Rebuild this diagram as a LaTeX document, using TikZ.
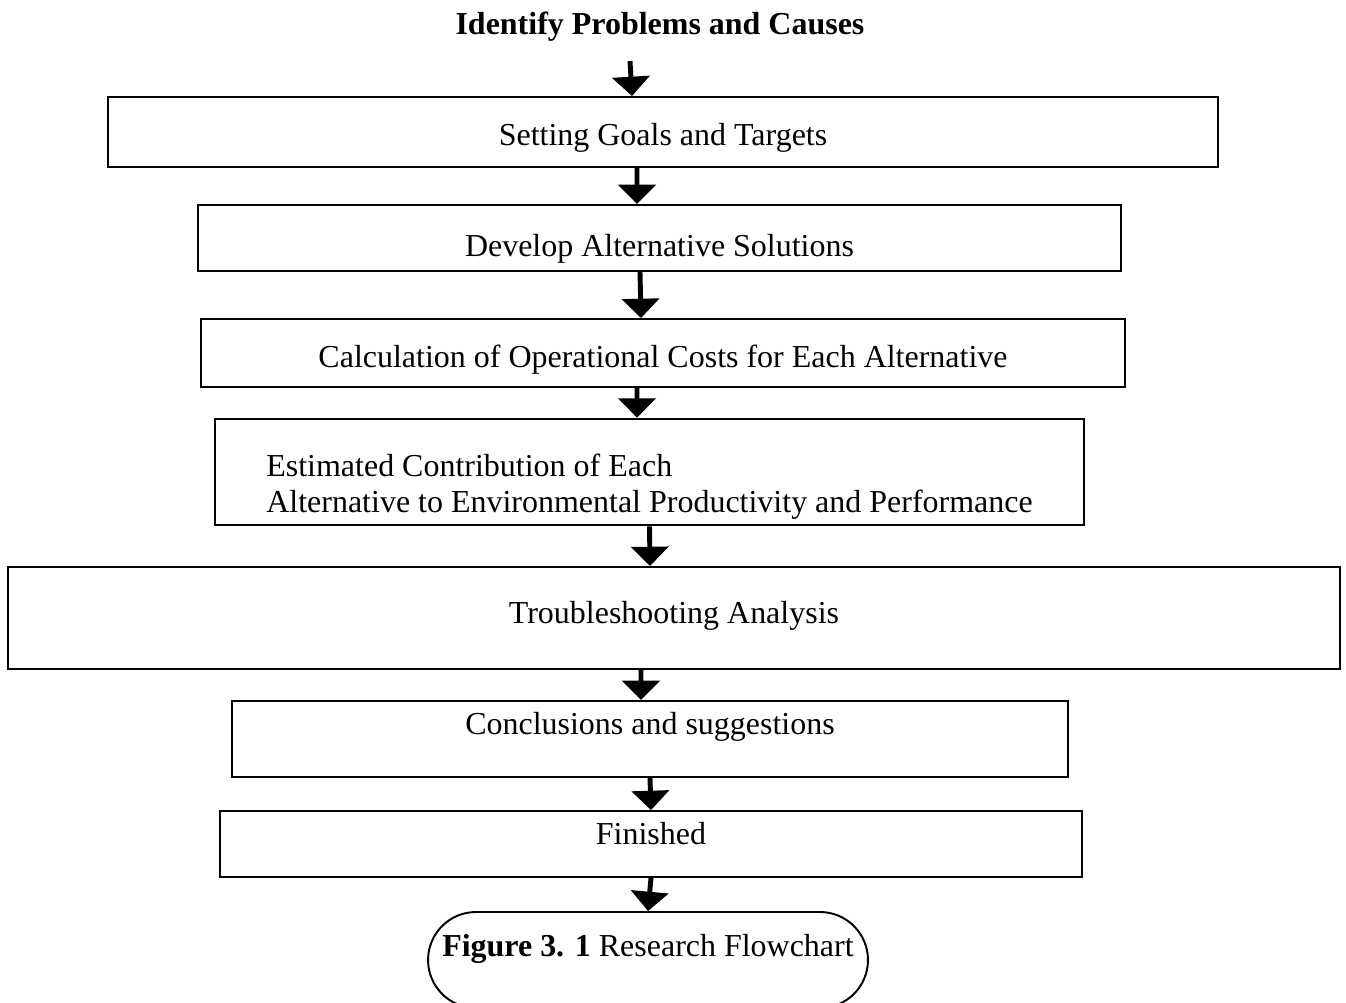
\documentclass[tikz,border=0pt]{standalone}
\usepackage{fontspec}
\setmainfont{Liberation Serif}
\usepackage{tikz}
\usetikzlibrary{arrows.meta}
\usetikzlibrary{shapes.misc}

\begin{document}
\begin{tikzpicture}[x=0.02cm, y=-0.02cm]
\tikzstyle{box} = [rectangle, draw=black, line width=1.1pt, text height=19pt, text depth=4pt, font=\fontsize{18.2pt}{20.5pt}\selectfont]
\tikzstyle{flow} = [line width=2.8pt, -{Triangle[width=21pt, length=11pt]}]
\useasboundingbox (0,0) rectangle (1346,1003);

\node[font=\fontsize{18.2pt}{20.5pt}\selectfont\bfseries, inner sep=0pt] (title) at (660,27) {Identify Problems and Causes};
\node[box, minimum width=22.2cm, minimum height=1.4cm] (goals) at (663,132) {Setting Goals and Targets};
\node[box, minimum width=18.46cm, minimum height=1.32cm, text height=24.8pt] (develop) at (659.5,238) {Develop Alternative Solutions};
\node[box, minimum width=18.48cm, minimum height=1.36cm, text height=20.2pt] (cost) at (663,353) {Calculation of Operational Costs for Each Alternative};
\node[box, minimum width=17.38cm, minimum height=2.12cm, align=left, text height=50pt, text depth=4.1pt] (contrib) at (649.5,472) {Estimated Contribution of Each\\Alternative to Environmental Productivity and Performance};
\node[box, minimum width=26.64cm, minimum height=2.04cm, text height=10pt] (trouble) at (674,618) {Troubleshooting Analysis};
\node[box, minimum width=16.72cm, minimum height=1.52cm, text height=12.5pt, text depth=17.9pt] (concl) at (650,739) {Conclusions and suggestions};
\node[box, minimum width=17.24cm, minimum height=1.32cm, text height=12.5pt, text depth=12.1pt] (finish) at (651,844) {Finished};
\node[box, rounded rectangle, minimum width=8.8cm, minimum height=1.92cm, inner xsep=0pt, text height=12.5pt, text depth=16.7pt] (figure) at (648,960) {\textbf{Figure 3. 1} Research Flowchart};

% arrows between the steps
\draw[flow] ([xshift=-0.6cm, yshift=-0.38cm]title.south) -- ([xshift=-0.62cm]goals.north);
\draw[flow] ([xshift=-0.52cm]goals.south) -- ([xshift=-0.45cm]develop.north);
\draw[flow] ([xshift=-0.39cm]develop.south) -- ([xshift=-0.44cm]cost.north);
\draw[flow] ([xshift=-0.52cm]cost.south) -- ([xshift=-0.25cm]contrib.north);
\draw[flow] (contrib.south) -- ([xshift=-0.48cm]trouble.north);
\draw[flow] ([xshift=-0.66cm]trouble.south) -- ([xshift=-0.18cm]concl.north);
\draw[flow] (concl.south) -- (finish.north);
\draw[flow] (finish.south) -- (figure.north);
\end{tikzpicture}
\end{document}
